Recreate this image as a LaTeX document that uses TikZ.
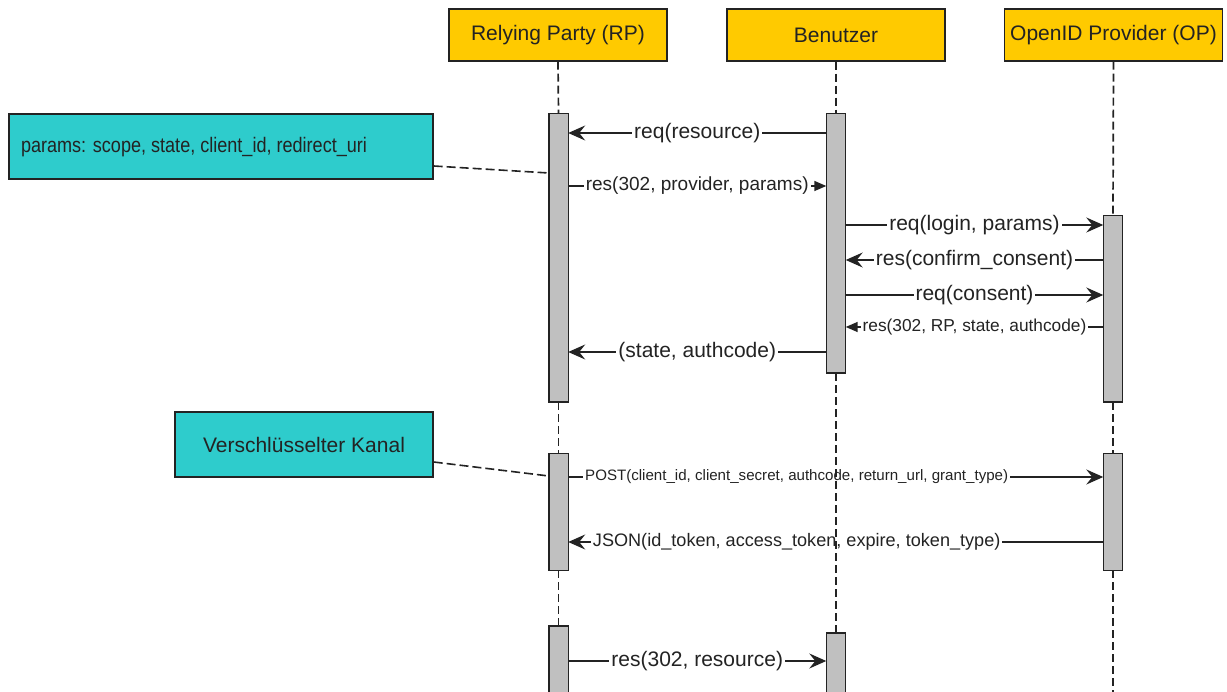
\documentclass[tikz,border=0pt]{standalone}
\usepackage{fontspec}
\setmainfont{Liberation Sans}
\usetikzlibrary{arrows.meta}
\definecolor{hdrcol}{RGB}{255,202,0}
\definecolor{notecol}{RGB}{46,204,204}
\definecolor{barcol}{RGB}{192,192,192}
\definecolor{inkcol}{RGB}{35,35,35}
\begin{document}
\begin{tikzpicture}[x=1pt,y=-1pt,
 hdr/.style={draw=inkcol, fill=hdrcol, line width=1.4pt, minimum width=218pt, minimum height=52pt, inner sep=0pt, text=inkcol, font=\fontsize{21}{24}\selectfont},
 bar/.style={minimum width=19pt, inner sep=0pt},
 note/.style={draw=inkcol, fill=notecol, line width=1.4pt, inner sep=0pt, text=inkcol},
 life/.style={dash pattern=on 8pt off 4pt, line width=1.7pt, draw=inkcol},
 msg/.style={line width=1.5pt, draw=inkcol, -{Stealth[length=17pt,width=15pt,inset=6pt]}},
 smsg/.style={line width=1.5pt, draw=inkcol, -{Triangle[length=12pt,width=10pt]}},
 lbl/.style={fill=white, inner sep=2pt, text=inkcol, font=\fontsize{21}{24}\selectfont},
 notelink/.style={dash pattern=on 9pt off 4pt, line width=1.6pt, draw=inkcol},
]
\useasboundingbox (0,0) rectangle (1227,692);

% headers
\node[hdr] (rp) at (558,35) {Relying Party (RP)};
\node[hdr] (bu) at (836,35) {Benutzer};
\node[hdr] (op) at (1113.5,35) {OpenID Provider (OP)};

% activation bars (positions; drawn later on top)
\path
 node[bar, minimum height=288pt] (rp1) at (558.5,258) {}
 node[bar, minimum height=259pt] (bu1) at (836,243.5) {}
 node[bar, minimum height=186pt] (op1) at (1113,309) {}
 node[bar, minimum height=116pt] (rp2) at (558.5,512) {}
 node[bar, minimum height=116pt] (op2) at (1113,512) {}
 node[bar, minimum height=80pt] (rp3) at (558.5,666) {}
 node[bar, minimum height=73pt] (bu3) at (836,669.5) {};

% messages
\draw[msg] (bu1.west |- 0,133) -- node[lbl] {req(resource)} (rp1.east |- 0,133);
\draw[smsg] (rp1.east |- 0,186) -- node[lbl, font=\fontsize{19}{22}\selectfont] {res(302, provider, params)} (bu1.west |- 0,186);
\draw[msg] (bu1.east |- 0,225) -- node[lbl] {req(login, params)} (op1.west |- 0,225);
\draw[msg] (op1.west |- 0,260) -- node[lbl] {res(confirm\_consent)} (bu1.east |- 0,260);
\draw[msg] (bu1.east |- 0,295) -- node[lbl] {req(consent)} (op1.west |- 0,295);
\draw[smsg] (op1.west |- 0,327) -- node[lbl, font=\fontsize{17.3}{20}\selectfont] {res(302, RP, state, authcode)} (bu1.east |- 0,327);
\draw[msg] (bu1.west |- 0,352) -- node[lbl] {(state, authcode)} (rp1.east |- 0,352);
\draw[msg] (rp2.east |- 0,477) -- node[lbl, pos=0.427, font=\fontsize{15.1}{18}\selectfont] {POST(client\_id, client\_secret, authcode, return\_url, grant\_type)} (op2.west |- 0,477);
\draw[msg] (op2.west |- 0,542) -- node[lbl, pos=0.573, font=\fontsize{18.1}{21}\selectfont] {JSON(id\_token, access\_token, expire, token\_type)} (rp2.east |- 0,542);
\draw[msg] (rp3.east |- 0,661) -- node[lbl] {res(302, resource)} (bu3.west |- 0,661);

% lifelines
\coordinate (opend) at (1113,700);
\draw[life] (rp.south) -- (rp1.north);
\draw[life] (rp1.south) -- (rp2.north);
\draw[life] (rp2.south) -- (rp3.north);
\draw[life] (bu.south) -- (bu1.north);
\draw[life] (bu1.south) -- (bu3.north);
\draw[life] (op.south) -- (op1.north);
\draw[life] (op1.south) -- (op2.north);
\draw[life] (op2.south) -- (opend);

% bars drawn
\foreach \b in {rp1,bu1,op1,rp2,op2,rp3,bu3}{
  \draw[draw=inkcol, fill=barcol, line width=1.4pt] (\b.north west) rectangle (\b.south east);
}

% notes
\node[note, minimum width=424pt, minimum height=65pt] (n1) at (221,146.5) {};
\node[text=inkcol, inner sep=0pt, font=\fontsize{21}{24}\selectfont] (n1t) at (194,147) {\scalebox{0.86}[1]{params: scope, state, client\_id, redirect\_uri}};
\node[note, minimum width=258pt, minimum height=65pt, font=\fontsize{21}{24}\selectfont] (n2) at (304,444.5) {Verschlüsselter Kanal};
\draw[notelink] (n1.east |- 0,166) -- (rp1.west |- 0,173);
\draw[notelink] (n2.east |- 0,462) -- (rp2.west |- 0,476);
\end{tikzpicture}
\end{document}
